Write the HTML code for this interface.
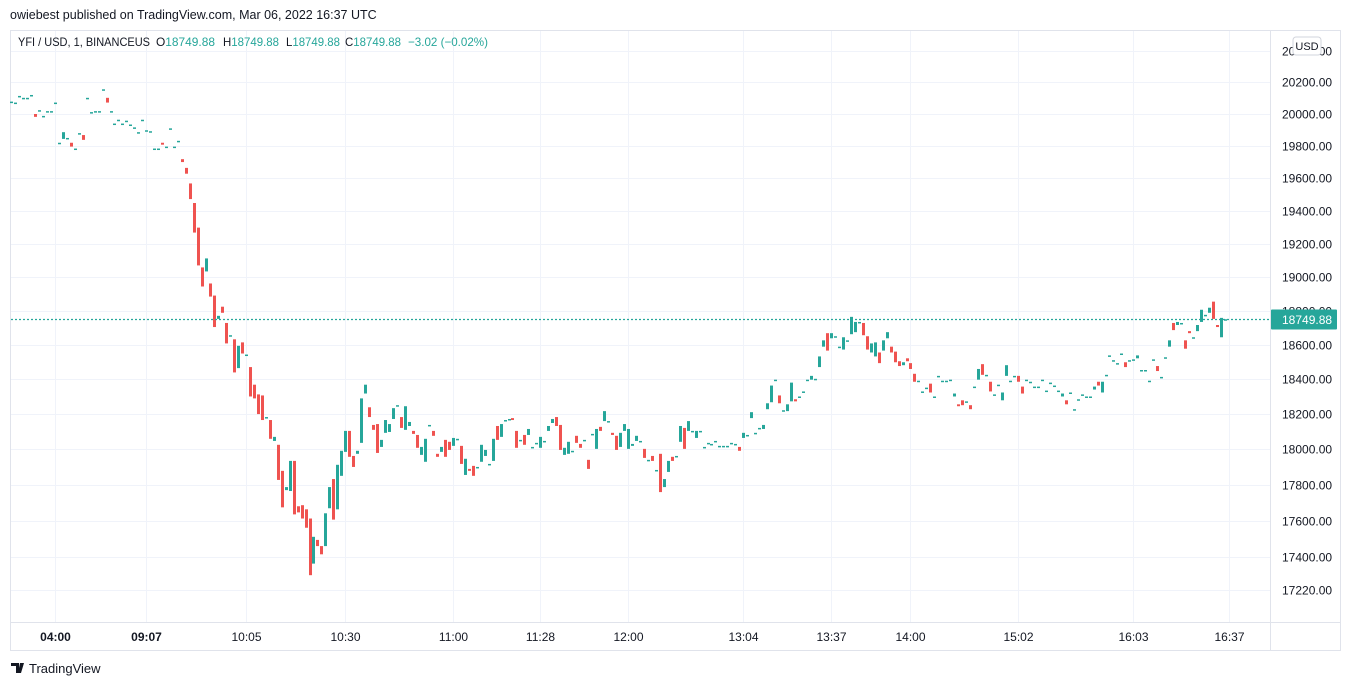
<!DOCTYPE html>
<html><head><meta charset="utf-8"><style>
html,body{margin:0;padding:0;background:#fff;}
body{width:1351px;height:686px;overflow:hidden;font-family:"Liberation Sans",sans-serif;}
</style></head><body>
<svg id="chart" width="1351" height="686" xmlns="http://www.w3.org/2000/svg" style="display:block">
<text x="10" y="19" font-size="12.5" fill="#131722" font-family="Liberation Sans, sans-serif">owiebest published on TradingView.com, Mar 06, 2022 16:37 UTC</text>
<rect x="10.5" y="30.5" width="1330" height="620" fill="none" stroke="#e0e3eb"/>
<line x1="1270.5" y1="30" x2="1270.5" y2="650" stroke="#e0e3eb"/>
<line x1="10" y1="622.5" x2="1341" y2="622.5" stroke="#e0e3eb"/>
<g id="grid"></g>
<g id="candles"></g>
<g id="yaxis"></g>
<g id="xaxis"></g>
<g font-size="12" font-family="Liberation Sans, sans-serif">
<text x="18" y="46" fill="#131722" textLength="132" lengthAdjust="spacingAndGlyphs">YFI / USD, 1, BINANCEUS</text>
<text x="156" y="46" fill="#131722" textLength="59" lengthAdjust="spacingAndGlyphs">O<tspan fill="#26a69a">18749.88</tspan></text>
<text x="223" y="46" fill="#131722" textLength="56" lengthAdjust="spacingAndGlyphs">H<tspan fill="#26a69a">18749.88</tspan></text>
<text x="286" y="46" fill="#131722" textLength="54" lengthAdjust="spacingAndGlyphs">L<tspan fill="#26a69a">18749.88</tspan></text>
<text x="345" y="46" fill="#131722" textLength="56" lengthAdjust="spacingAndGlyphs">C<tspan fill="#26a69a">18749.88</tspan></text>
<text x="408" y="46" fill="#26a69a" textLength="80" lengthAdjust="spacingAndGlyphs">−3.02 (−0.02%)</text>
</g>
<g>
<rect x="1293" y="37" width="28" height="18" rx="3" fill="#fff" stroke="#d1d4dc"/>
<text x="1307" y="50" font-size="11" text-anchor="middle" fill="#131722">USD</text>
</g>
<g>
<path d="M11 663h8v10h-3v-7h-5z M20 663h4l-3 10h-3z" fill="#131722"/>
<text x="29" y="673" font-size="13" fill="#131722">TradingView</text>
</g>
</svg>
<script>
const opens=[20078,20072,20114,20102,20102,20120,20000,20024,19988,20018,20018,20072,19820,19844,19850,19820,19784,19880,19868,20102,20012,20018,20018,20156,20102,20018,19940,19964,19940,19958,19934,19916,19886,19964,19898,19892,19784,19784,19820,19796,19910,19796,19832,19718,19664,19568,19448,19298,19058,19034,18962,18890,18752,18824,18728,18656,18632,18464,18614,18543,18470,18368,18312,18306,18182,18165,18046,18024,17877,17769,17764,17933,17679,17685,17662,17611,17363,17493,17459,17459,17668,17831,17662,17849,17984,18103,17961,17973,18035,18317,18238,18137,18142,18012,18092,18097,18171,18250,18182,18109,18131,18103,18080,17967,17928,18137,18103,17973,17984,18052,18041,18018,18058,18018,17854,17888,17905,17899,17928,17961,17916,17933,18131,18069,18165,18171,18176,18103,18052,18080,18080,18012,18035,18007,18046,18103,18148,18182,18137,17967,17973,17990,18075,18029,18052,17939,18086,18001,18126,18159,18159,18092,18075,18012,18103,18001,18018,18046,18046,18001,17939,17961,17882,17973,17786,17871,17956,17961,18041,18120,18103,18103,18063,18103,18012,18035,18029,18046,18018,18018,18018,18035,18029,18012,18063,18080,18176,18092,18120,18114,18227,18267,18397,18306,18221,18216,18272,18284,18300,18329,18397,18397,18402,18470,18589,18668,18638,18650,18589,18572,18626,18662,18674,18734,18728,18650,18555,18532,18555,18566,18638,18589,18560,18504,18481,18521,18493,18431,18391,18329,18351,18374,18300,18419,18391,18391,18397,18300,18255,18278,18272,18250,18357,18397,18487,18425,18385,18312,18368,18278,18419,18391,18419,18419,18357,18397,18385,18357,18357,18397,18334,18380,18363,18334,18300,18278,18323,18227,18284,18312,18300,18300,18340,18385,18323,18425,18538,18510,18493,18549,18498,18510,18515,18521,18453,18453,18391,18515,18476,18413,18527,18589,18728,18716,18728,18626,18680,18644,18680,18734,18776,18788,18854,18716,18644,18749.88];
const closes=[20078,20072,20114,20102,20102,20120,19982,20024,19988,20018,20018,20072,19820,19886,19850,19796,19784,19880,19838,20102,20012,20018,20018,20156,20072,20018,19940,19964,19940,19958,19934,19916,19886,19964,19898,19892,19784,19784,19808,19796,19910,19796,19832,19700,19628,19472,19268,19070,18944,19112,18884,18704,18770,18788,18608,18656,18439,18594,18549,18543,18300,18289,18199,18165,18182,18058,18069,17826,17673,17786,17933,17634,17645,17611,17560,17300,17510,17459,17414,17640,17786,17605,17911,17990,18103,17956,17899,17990,18289,18368,18182,18109,17978,18052,18165,18142,18233,18250,18120,18244,18154,18086,18007,18012,18058,18137,18075,17956,18012,17956,17995,18063,18058,17916,17945,17877,17849,17899,18024,17995,17916,18058,18052,18142,18165,18171,18165,18007,18052,18024,18114,18012,18035,18069,18046,18131,18171,18131,17995,18007,18041,17990,18035,18007,18052,17888,18086,18114,18103,18216,18159,18080,17995,18092,18142,18114,18029,18075,18046,17950,17939,17933,17882,17758,17831,17933,17933,17961,18131,18001,18159,18103,18103,18103,18012,18035,18029,18046,18018,18018,18018,18035,18029,17990,18092,18080,18210,18092,18120,18137,18261,18363,18397,18261,18221,18255,18380,18272,18300,18329,18397,18419,18402,18532,18626,18566,18668,18650,18589,18644,18626,18764,18734,18734,18656,18572,18608,18614,18493,18626,18674,18555,18498,18476,18498,18504,18459,18385,18391,18329,18351,18323,18300,18419,18391,18391,18397,18317,18244,18250,18272,18227,18357,18459,18425,18425,18329,18312,18368,18323,18481,18391,18419,18385,18317,18397,18385,18357,18357,18397,18334,18380,18363,18334,18317,18255,18323,18227,18284,18312,18300,18300,18357,18363,18385,18425,18538,18510,18493,18549,18470,18510,18515,18538,18453,18453,18391,18515,18447,18413,18527,18626,18686,18734,18728,18577,18668,18644,18716,18806,18776,18818,18752,18704,18758,18749.88];
const priceTicks=[20400,20200,20000,19800,19600,19400,19200,19000,18800,18600,18400,18200,18000,17800,17600,17400,17220];
const timeLabels=["04:00","09:07","10:05","10:30","11:00","11:28","12:00","13:04","13:37","14:00","15:02","16:03","16:37"];
const timeIndex=[11,34,59,84,111,133,155,184,206,226,253,282,306];
const lastPrice=18749.88;

const NS="http://www.w3.org/2000/svg";
function yScale(p){return 114+3180*Math.log(20000/p);}
function xScale(i){return 11+i*3.98;}
function mk(tag,attrs,parent){const e=document.createElementNS(NS,tag);for(const k in attrs)e.setAttribute(k,attrs[k]);parent.appendChild(e);return e;}
const grid=document.getElementById('grid'),cg=document.getElementById('candles'),ya=document.getElementById('yaxis'),xa=document.getElementById('xaxis');

priceTicks.forEach(p=>{
  const y=Math.round(yScale(p))+0.5;
  if(y>32&&y<620){
    const l=mk('line',{x1:11,x2:1270,y1:y,y2:y,stroke:'#f0f3fa'},grid);
    
    
  }
  const t=mk('text',{x:1282,y:y+4,'font-size':12,fill:'#131722'},ya);
  t.textContent=p.toFixed(2);
  
  
});
timeLabels.forEach((s,k)=>{
  const x=Math.round(xScale(timeIndex[k]))+0.5;
  const l=mk('line',{x1:x,x2:x,y1:31,y2:622,stroke:'#f0f3fa'},grid);
  
  
  const t=mk('text',{x:x,y:641,'font-size':12,fill:'#131722','text-anchor':'middle','font-weight':k<2?'bold':'normal'},xa);
  t.textContent=s;
  
  
});
for(let i=0;i<opens.length;i++){
  const o=opens[i],c=closes[i];
  const up=c>=o;const col=up?'#26a69a':'#ef5350';
  const x=Math.round(xScale(i));
  const y1=yScale(Math.max(o,c)),y2=yScale(Math.min(o,c));
  const h=Math.max(1.5,y2-y1);
  const r=mk('rect',{x:x-1,y:y1,width:3,height:h,fill:col},cg);
  
  
}
const ly=Math.round(yScale(lastPrice))+0.5;
const dl=mk('line',{x1:11,x2:1270,y1:ly,y2:ly,stroke:'#26a69a','stroke-dasharray':'2 2','stroke-width':1.2},cg);


const lb=mk('rect',{x:1271,y:ly-10,width:66,height:20,fill:'#26a69a',rx:1},ya);


const lt=mk('text',{x:1282,y:ly+4.5,'font-size':12,fill:'#fff'},ya);
lt.textContent=lastPrice.toFixed(2);


</script>
</body></html>
